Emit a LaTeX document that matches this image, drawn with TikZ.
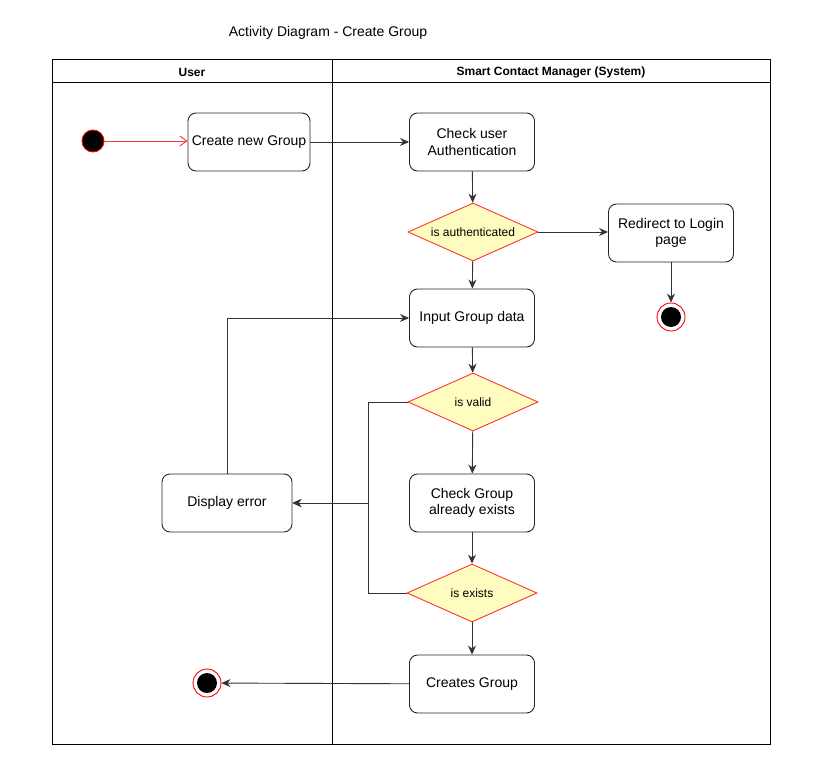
\documentclass[tikz,border=0pt]{standalone}
\usepackage{fontspec}
\setmainfont{Liberation Sans}
\usetikzlibrary{shapes.geometric,arrows.meta}

\begin{document}
\begin{tikzpicture}[x=1pt,y=-1pt]
                \tikzstyle{act}=[rectangle, rounded corners=8pt, draw=black!85, line width=0.9pt, minimum width=125pt, minimum height=58pt, align=center, font=\fontsize{14}{16.5}\selectfont]
                \tikzstyle{dec}=[diamond, draw=red!80, fill=yellow!25, line width=0.9pt, aspect=2.24, minimum width=130pt, minimum height=58pt, inner sep=0pt, font=\fontsize{12}{14}\selectfont]
                \tikzstyle{arr}=[draw=black!80, line width=0.9pt, -{Stealth[length=9pt,width=8pt]}]
                \tikzstyle{fin}=[circle, draw=red, fill=white, line width=0.9pt, minimum size=28pt, inner sep=0pt, path picture={\fill[black] (path picture bounding box.center) circle (10pt);}]

                \useasboundingbox (0,0) rectangle (819,757);

                % title and lanes
                \node[font=\fontsize{14}{16}\selectfont] (title) at (328,33) {Activity Diagram - Create Group};
                \draw[line width=1pt] (52,60) rectangle (770,744);
                \draw[line width=1pt] (52,83) -- (770,83);
                \draw[line width=1pt] (332,60) -- (332,744);
                \node[font=\fontsize{12}{14}\selectfont\bfseries] (user) at (192,72) {User};
                \node[font=\fontsize{12}{14}\selectfont\bfseries] (sys) at (551,72) {Smart Contact Manager (System)};

                % nodes
                \node[circle, draw=red, fill=black, line width=0.9pt, minimum size=22pt, inner sep=0pt] (st) at (93,141) {};
                \node[act, minimum width=122pt] (cg) at (249,142) {Create new Group};
                \node[act] (cu) at (472,142) {Check user\\Authentication};
                \node[dec] (ia) at (473,232) {is authenticated};
                \node[act] (rl) at (671,233) {Redirect to Login\\page};
                \node[fin] (e1) at (671,317) {};
                \node[act] (ig) at (472,318) {Input Group data};
                \node[dec] (iv) at (473,402) {is valid};
                \node[act, minimum width=130pt] (de) at (227,503) {Display error};
                \node[act] (ce) at (472,503) {Check Group\\already exists};
                \node[dec] (ie) at (472,593) {is exists};
                \node[act] (cr) at (472,684) {Creates Group};
                \node[fin] (e2) at (207,683) {};
                \coordinate (j) at (368,503);

                % flows
                \draw[draw=red!80, line width=0.9pt, -{Straight Barb[length=7pt,width=10pt]}] (st) -- (st -| cg.west);
                \draw[arr] (cg) -- (cu);
                \draw[arr] (cu) -- (ia);
                \draw[arr] (ia) -- (ia -| rl.west);
                \draw[arr] (rl) -- (e1);
                \draw[arr] (ia) -- (ig);
                \draw[arr] (ig) -- (iv);
                \draw[arr] (iv) -- (ce);
                \draw[arr] (ce) -- (ie);
                \draw[arr] (ie) -- (cr);
                \draw[arr] (cr) -- (e2);
                \draw[arr] (iv.west) -| (j) -- (de.east);
                \draw[arr] (ie.west) -| (j) -- (de.east);
                \draw[arr] (de.north) |- (ig.west);
            \end{tikzpicture}
\end{document}
